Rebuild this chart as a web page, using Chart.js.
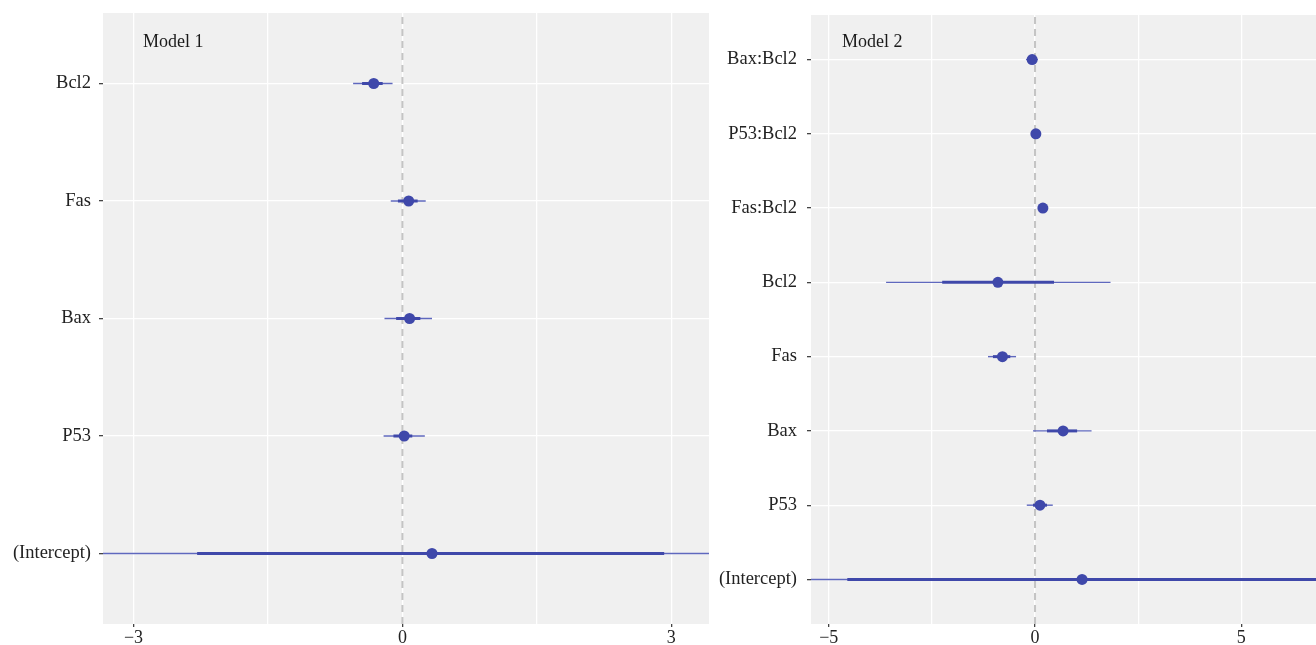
<!DOCTYPE html>
<html>
<head>
<meta charset="utf-8">
<script src="https://cdn.jsdelivr.net/npm/chart.js@4.4.1/dist/chart.umd.min.js"></script>
<style>
  body { margin: 0; background: #fff; }
  #wrap { position: relative; width: 1316px; height: 645px; }
  .box { position: absolute; top: 0; height: 645px; }
</style>
</head>
<body>
<div id="wrap">
  <div class="box" style="left:0;width:712px"><canvas id="m1"></canvas></div>
  <div class="box" style="left:712px;width:604px"><canvas id="m2"></canvas></div>
</div>
<script>
// Model 1 coefficients (bottom to top)
const terms1 = ['(Intercept)', 'P53', 'Bax', 'Fas', 'Bcl2'];
const est1 = [0.33, 0.02, 0.08, 0.07, -0.32];
const lo1 = [-5.0, -0.21, -0.20, -0.13, -0.55];
const hi1 = [5.8, 0.25, 0.33, 0.26, -0.11];
const loIn1 = [-2.29, -0.10, -0.07, -0.05, -0.45];
const hiIn1 = [2.92, 0.11, 0.20, 0.17, -0.22];
const xTicks1 = [-3, 0, 3];
const xMinor1 = [-1.5, 1.5];

// Model 2 coefficients (bottom to top)
const terms2 = ['(Intercept)', 'P53', 'Bax', 'Fas', 'Bcl2', 'Fas:Bcl2', 'P53:Bcl2', 'Bax:Bcl2'];
const est2 = [1.14, 0.12, 0.68, -0.79, -0.90, 0.19, 0.02, -0.07];
const lo2 = [-9.0, -0.20, -0.05, -1.14, -3.61, 0.13, -0.04, -0.22];
const hi2 = [11.0, 0.43, 1.37, -0.46, 1.83, 0.25, 0.08, 0.07];
const loIn2 = [-4.55, -0.05, 0.29, -1.02, -2.25, 0.16, -0.01, -0.15];
const hiIn2 = [8.5, 0.29, 1.02, -0.60, 0.46, 0.22, 0.05, 0.00];
const xTicks2 = [-5, 0, 5];
const xMinor2 = [-2.5, 2.5];

const FONT = "'Liberation Serif', 'DejaVu Serif', serif";
const PT = '#3f48aa';
const OUTER = '#5f68be';

const panelBg = {
  id: 'panelBg',
  beforeDraw(chart, args, opts) {
    const { ctx, chartArea: a } = chart;
    ctx.save();
    ctx.fillStyle = '#f0f0f0';
    ctx.fillRect(a.left, a.top, a.right - a.left, a.bottom - a.top);
    ctx.restore();
  },
  afterDraw(chart, args, opts) {
    const { ctx, chartArea: a } = chart;
    ctx.save();
    ctx.font = '18px ' + FONT;
    ctx.fillStyle = '#1a1a1a';
    ctx.textBaseline = 'alphabetic';
    ctx.fillText(opts.text, a.left + opts.dx, a.top + opts.dy);
    ctx.restore();
  }
};

function fmt(v) {
  return v < 0 ? '\u2212' + Math.abs(v) : String(v);
}

function noPad(s) {
  s.paddingTop = 0; s.paddingBottom = 0; s.paddingLeft = 0; s.paddingRight = 0;
}

function makeChart(id, o) {
  const n = o.terms.length;
  const datasets = [];
  datasets.push({
    data: [{ x: 0, y: 0.4 }, { x: 0, y: n + 0.6 }],
    showLine: true, borderColor: '#c4c4c4', borderWidth: 2, borderDash: [7, 5],
    pointRadius: 0, order: 3, clip: 0
  });
  o.terms.forEach((t, i) => {
    datasets.push({
      data: [{ x: o.lo[i], y: i + 1 }, { x: o.hi[i], y: i + 1 }],
      showLine: true, borderColor: OUTER, borderWidth: 1.4,
      pointRadius: 0, order: 2, clip: 0
    });
    datasets.push({
      data: [{ x: o.loIn[i], y: i + 1 }, { x: o.hiIn[i], y: i + 1 }],
      showLine: true, borderColor: PT, borderWidth: 3,
      pointRadius: 0, order: 1, clip: 0
    });
  });
  datasets.push({
    data: o.est.map((v, i) => ({ x: v, y: i + 1 })),
    showLine: false, pointRadius: 5.5, pointBackgroundColor: PT, pointBorderWidth: 0,
    order: 0
  });

  new Chart(document.getElementById(id), {
    type: 'scatter',
    data: { datasets },
    options: {
      responsive: true,
      maintainAspectRatio: false,
      animation: false,
      layout: { autoPadding: false, padding: { top: o.top, right: o.right, left: 0, bottom: 0 } },
      plugins: {
        legend: { display: false },
        tooltip: { enabled: false },
        panelBg: { text: o.label, dx: o.textDx, dy: o.textDy }
      },
      scales: {
        x: {
          type: 'linear', min: o.xMin, max: o.xMax,
          afterBuildTicks: s => { s.ticks = [...o.xMinor, ...o.xTicks].sort((a, b) => a - b).map(v => ({ value: v })); },
          afterFit: s => { s.height = 645 - o.bottom; noPad(s); },
          border: { display: false },
          grid: {
            color: '#ffffff',
            lineWidth: 1.3,
            drawTicks: true,
            tickLength: 3,
            tickColor: c => o.xTicks.includes(c.tick.value) ? '#444' : 'rgba(0,0,0,0)'
          },
          ticks: {
            autoSkip: false, maxRotation: 0, padding: 0,
            color: '#222', font: { family: FONT, size: 18 },
            callback: v => o.xTicks.includes(v) ? fmt(v) : ''
          }
        },
        y: {
          type: 'linear', min: 0.4, max: n + 0.6,
          afterBuildTicks: s => { s.ticks = o.terms.map((t, i) => ({ value: i + 1 })); },
          afterFit: s => { s.width = o.yWidth; noPad(s); },
          border: { display: false },
          grid: { color: '#ffffff', lineWidth: 1.3, drawTicks: true, tickLength: 4, tickColor: '#444' },
          ticks: {
            autoSkip: false, padding: o.yPad,
            color: '#222', font: { family: FONT, size: 18.5 },
            callback: v => o.terms[Math.round(v) - 1]
          }
        }
      }
    },
    plugins: [panelBg]
  });
}

makeChart('m1', {
  terms: terms1, est: est1, lo: lo1, hi: hi1, loIn: loIn1, hiIn: hiIn1,
  xTicks: xTicks1, xMinor: xMinor1, xMin: -3.34, xMax: 3.42,
  top: 13, bottom: 624, right: 3, yWidth: 103, yPad: 8,
  label: 'Model 1', textDx: 40, textDy: 34
});
makeChart('m2', {
  terms: terms2, est: est2, lo: lo2, hi: hi2, loIn: loIn2, hiIn: hiIn2,
  xTicks: xTicks2, xMinor: xMinor2, xMin: -5.43, xMax: 6.81,
  top: 15, bottom: 624, right: 0, yWidth: 99, yPad: 10,
  label: 'Model 2', textDx: 31, textDy: 32
});
</script>
</body>
</html>
